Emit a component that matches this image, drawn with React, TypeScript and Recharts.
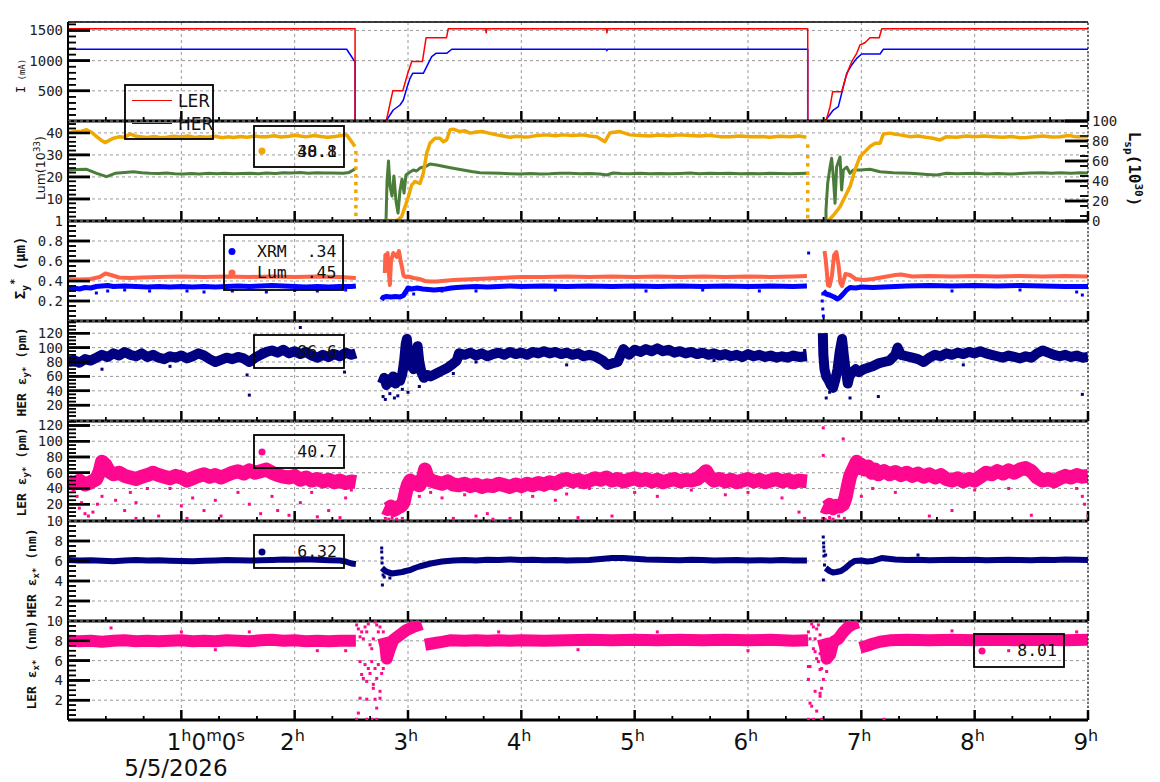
import React from 'react';
import { ComposedChart, Line, Scatter, XAxis, YAxis, CartesianGrid, ReferenceLine } from 'recharts';

type P = [number, number | null];

// time axis, hours from 0h
const HOUR_TICKS = [1, 2, 3, 4, 5, 6, 7, 8, 9];
const HOUR_MINOR = [0.333, 0.667, 1.333, 1.667, 2.333, 2.667, 3.333, 3.667, 4.333, 4.667, 5.333, 5.667, 6.333, 6.667, 7.333, 7.667, 8.333, 8.667];
const DATE_LABEL = '5/5/2026';

// panel 1 : beam current (mA)
const I_TICKS = [500, 1000, 1500];
const I_MINOR = [100, 200, 300, 400, 600, 700, 800, 900, 1100, 1200, 1300, 1400, 1600];
const I_LER: P[] = [
  [0, 1528], [2.533, 1528], [2.533, 0], [2.808, 0], [2.866, 500], [2.954, 500], [2.998, 790], [3.033, 985], [3.127, 985],
  [3.16, 1380], [3.34, 1380], [3.355, 1528], [3.685, 1528], [3.69, 1460], [3.695, 1528], [4.75, 1528], [4.755, 1460],
  [4.76, 1528], [6.527, 1528], [6.527, 0], [6.688, 0], [6.724, 237], [6.747, 485], [6.826, 485], [6.856, 679], [6.885, 845],
  [6.915, 983], [6.959, 1121], [6.988, 1259], [7.032, 1297], [7.076, 1380], [7.158, 1380], [7.18, 1528], [9, 1528],
];
const I_HER: P[] = [
  [0, 1188], [2.459, 1188], [2.527, 994], [2.533, 994], [2.533, 0], [2.806, 0], [2.87, 182], [2.93, 265], [2.959, 348],
  [2.989, 541], [3.018, 707], [3.041, 790], [3.135, 790], [3.165, 900], [3.209, 1066], [3.247, 1121], [3.341, 1121],
  [3.386, 1188], [4.75, 1188], [4.755, 1165], [4.76, 1188], [6.527, 1188], [6.527, 0], [6.679, 0], [6.753, 182],
  [6.797, 237], [6.841, 568], [6.871, 790], [6.915, 928], [6.959, 1038], [7.003, 1110], [7.165, 1110], [7.194, 1188], [9, 1188],
];

// panel 2 : luminosity (left) and specific luminosity (right)
const LUM_TICKS = [10, 20, 30, 40];
const LUM_MINOR = [2, 4, 6, 8, 12, 14, 16, 18, 22, 24, 26, 28, 32, 34, 36, 38, 42, 44];
const LSP_TICKS = [0, 20, 40, 60, 80, 100];
const LSP_MINOR = [5, 15, 25, 35, 45, 55, 65, 75, 85, 95];
const LUM: P[] = [
  [0, 40.1], [0.06, 40.5], [0.12, 40.8], [0.165, 41.4], [0.21, 40.2], [0.253, 38.3], [0.29, 36.8], [0.326, 35.6], [0.36, 36.5],
  [0.4, 37.6], [0.45, 38.2], [0.5, 38], [0.547, 39.5], [0.59, 38.6], [0.635, 38.3], [0.7, 37.9], [0.76, 38.4], [0.82, 37.8],
  [0.871, 38], [0.93, 38.5], [1, 38.1], [1.06, 38.6], [1.12, 37.9], [1.165, 38.3], [1.23, 38], [1.3, 38.5], [1.36, 37.8],
  [1.41, 38.2], [1.459, 37.9], [1.52, 38.4], [1.58, 38], [1.65, 38.6], [1.7, 38.2], [1.753, 38.3], [1.82, 38.7], [1.88, 38.1],
  [1.95, 38.5], [2, 38.9], [2.047, 38.6], [2.1, 38.2], [2.17, 38.8], [2.23, 38.4], [2.29, 38], [2.341, 38.3], [2.4, 38.7],
  [2.459, 39.1], [2.503, 36], [2.532, 33.8], [2.535, null],
  [2.8, 0.2], [2.885, 0.1], [2.912, 0.5], [2.944, 2], [2.974, 6.5], [3.003, 11], [3.033, 16.4], [3.062, 17.9], [3.106, 17.1],
  [3.135, 21.7], [3.165, 30.8], [3.194, 35.3], [3.238, 37.6], [3.282, 37.6], [3.312, 36], [3.341, 36.8], [3.371, 41.4],
  [3.4, 41.7], [3.459, 40.6], [3.5, 41], [3.547, 39.9], [3.6, 40.4], [3.662, 40.6], [3.72, 39.8], [3.783, 39.1], [3.84, 38.6],
  [3.9, 38], [3.96, 38.5], [4.02, 38.1], [4.076, 38.3], [4.14, 38.8], [4.224, 39.1], [4.3, 38.7], [4.368, 39.1], [4.45, 38.8],
  [4.544, 39.1], [4.6, 38.6], [4.665, 38.3], [4.738, 36], [4.783, 40.1], [4.871, 40.6], [4.959, 39.1], [5.05, 38.8],
  [5.135, 38.6], [5.22, 39], [5.3, 38.7], [5.4, 39.1], [5.49, 38.8], [5.577, 38.6], [5.66, 38.9], [5.75, 38.3], [5.84, 38.2],
  [5.93, 38.6], [6.02, 38.3], [6.106, 38.4], [6.19, 38], [6.28, 38.5], [6.371, 38.2], [6.45, 38.6], [6.515, 38], [6.52, null],
  [6.68, 0.2], [6.709, 0.1], [6.768, 3.5], [6.812, 6.5], [6.856, 11], [6.9, 15.6], [6.944, 23.2], [6.988, 29.2], [7.032, 31.5],
  [7.076, 33.8], [7.121, 35.3], [7.165, 35.3], [7.194, 39.5], [7.253, 39.9], [7.3, 39.4], [7.341, 39.1], [7.429, 38.3],
  [7.5, 38.6], [7.57, 38], [7.632, 37.6], [7.694, 36.8], [7.753, 38.3], [7.84, 38], [7.929, 38.6], [8, 38.2], [8.08, 38.6],
  [8.162, 38.3], [8.25, 38], [8.33, 38.4], [8.4, 37.8], [8.459, 37.9], [8.53, 38.3], [8.603, 38.6], [8.68, 38.1],
  [8.753, 38.3], [8.83, 38.8], [8.9, 38.2], [9, 38.3],
];
const LUM_DROP: P[] = [
  [2.54, 31], [2.54, 27.5], [2.54, 24], [2.54, 20.5], [2.54, 17], [2.54, 13.5], [2.54, 10], [2.54, 6.5], [2.54, 3],
  [6.527, 34], [6.527, 29.2], [6.527, 25.5], [6.527, 21.7], [6.527, 17.1], [6.527, 13.3], [6.527, 9.5], [6.527, 5], [6.527, 2],
];
const LSP: P[] = [
  [0, 51], [0.08, 51.5], [0.165, 51.7], [0.253, 47.7], [0.341, 44.3], [0.415, 47.7], [0.5, 48.5], [0.576, 49.3], [0.65, 48.2],
  [0.724, 47.7], [0.8, 47.4], [0.87, 47.9], [0.94, 47.2], [1.018, 47], [1.09, 47.6], [1.16, 47.1], [1.24, 47.7], [1.312, 47.3],
  [1.38, 47.8], [1.46, 47.2], [1.53, 47.6], [1.606, 47.7], [1.68, 47.3], [1.75, 48], [1.83, 47.6], [1.9, 48.3], [1.97, 47.9],
  [2.05, 48.4], [2.12, 47.8], [2.194, 48.3], [2.26, 47.9], [2.33, 48.1], [2.429, 47.7], [2.48, 48.6], [2.518, 51],
  [2.536, 52.7], [2.538, null],
  [2.54, 0], [2.806, 0], [2.815, 40], [2.828, 60], [2.841, 35], [2.859, 25], [2.876, 45], [2.894, 20], [2.912, 8], [2.929, 30],
  [2.947, 42], [2.965, 28], [2.982, 46], [3.018, 49], [3.047, 51], [3.076, 50], [3.106, 53], [3.165, 55], [3.194, 57],
  [3.253, 56], [3.341, 54], [3.41, 52.5], [3.485, 51], [3.56, 49.5], [3.635, 48.3], [3.72, 48], [3.812, 47.7], [3.9, 47.3],
  [3.988, 47], [4.08, 47.6], [4.17, 47.1], [4.253, 47.3], [4.34, 47.8], [4.429, 47.7], [4.52, 47.2], [4.6, 47.5], [4.694, 47],
  [4.753, 46], [4.809, 48], [4.88, 47.4], [4.959, 47.3], [5.05, 47.8], [5.13, 47.2], [5.22, 47.6], [5.31, 47.3], [5.4, 47.5],
  [5.49, 47.9], [5.57, 47.3], [5.66, 47.7], [5.75, 47.4], [5.84, 47.7], [5.93, 47.3], [6.02, 47.6], [6.11, 47.2], [6.19, 47.8],
  [6.28, 47.5], [6.37, 47.2], [6.45, 47.6], [6.52, 47.7], [6.524, null],
  [6.53, 0], [6.688, 0], [6.688, 11], [6.703, 37.7], [6.724, 54], [6.738, 62.7], [6.753, 44], [6.768, 17.7], [6.782, 54],
  [6.812, 64], [6.826, 31], [6.841, 51], [6.871, 54], [6.9, 47.7], [6.929, 51], [6.988, 51], [7.076, 51.7], [7.165, 49.3],
  [7.282, 48.3], [7.35, 48], [7.429, 47.7], [7.5, 47.2], [7.58, 46.6], [7.665, 46], [7.753, 47.7], [7.84, 47.2], [7.93, 47.6],
  [8.018, 47.7], [8.1, 47.1], [8.2, 47.5], [8.312, 47], [8.4, 47.4], [8.5, 47.9], [8.606, 48.3], [8.68, 47.8], [8.753, 48.3],
  [8.85, 47.7], [8.93, 48.2], [9, 48],
];

// panel 3 : vertical beam size (um)
const SIG_LABELS = [0.2, 0.4, 0.6, 0.8, 1];
const SIG_TICKS = [0.2, 0.4, 0.6, 0.8];
const SIG_MINOR = [0.05, 0.1, 0.15, 0.25, 0.3, 0.35, 0.45, 0.5, 0.55, 0.65, 0.7, 0.75, 0.85, 0.9, 0.95];
const SIG_XRM: P[] = [
  [0, 0.325], [0.05, 0.33], [0.1, 0.32], [0.15, 0.335], [0.2, 0.33], [0.25, 0.345], [0.3, 0.35], [0.35, 0.355], [0.4, 0.345],
  [0.5, 0.35], [0.6, 0.345], [0.7, 0.34], [0.8, 0.345], [0.9, 0.34], [1, 0.345], [1.1, 0.34], [1.2, 0.345], [1.3, 0.34],
  [1.4, 0.345], [1.5, 0.35], [1.6, 0.345], [1.7, 0.35], [1.8, 0.355], [1.9, 0.35], [2, 0.345], [2.1, 0.34], [2.2, 0.345],
  [2.3, 0.34], [2.4, 0.345], [2.5, 0.345], [2.54, 0.35], [2.545, null],
  [2.768, 0.21], [2.78, 0.235], [2.81, 0.245], [2.85, 0.24], [2.89, 0.245], [2.93, 0.24], [2.959, 0.255], [2.98, 0.29],
  [3, 0.33], [3.03, 0.32], [3.08, 0.33], [3.13, 0.32], [3.18, 0.315], [3.23, 0.31], [3.28, 0.315], [3.33, 0.32], [3.38, 0.33],
  [3.43, 0.335], [3.5, 0.34], [3.6, 0.345], [3.7, 0.34], [3.8, 0.345], [3.9, 0.35], [4, 0.345], [4.2, 0.35], [4.4, 0.345],
  [4.6, 0.35], [4.8, 0.345], [5, 0.35], [5.2, 0.345], [5.4, 0.35], [5.6, 0.345], [5.8, 0.35], [6, 0.345], [6.2, 0.35],
  [6.4, 0.345], [6.52, 0.35], [6.525, null],
  [6.665, 0.3], [6.69, 0.27], [6.72, 0.26], [6.76, 0.24], [6.79, 0.22], [6.81, 0.235], [6.84, 0.27], [6.87, 0.31], [6.9, 0.335],
  [6.95, 0.33], [7, 0.34], [7.1, 0.335], [7.2, 0.34], [7.3, 0.345], [7.4, 0.35], [7.6, 0.355], [7.8, 0.35], [8, 0.355],
  [8.2, 0.35], [8.4, 0.355], [8.6, 0.35], [8.8, 0.345], [9, 0.345],
];
const SIG_XRM_OUT: P[] = [
  [0.25, 0.28], [0.35, 0.3], [0.5, 0.31], [0.72, 0.3], [1.05, 0.3], [1.2, 0.29], [1.45, 0.3], [1.75, 0.29], [2, 0.305],
  [2.2, 0.3], [2.45, 0.31], [3.05, 0.27], [3.3, 0.3], [3.6, 0.3], [4.3, 0.31], [5.1, 0.3], [5.6, 0.31], [6.1, 0.3],
  [6.535, 0.68], [6.655, 0.2], [6.66, 0.12], [6.665, 0.05], [6.66, 0.27], [7.8, 0.3], [8.4, 0.31], [8.9, 0.29], [8.95, 0.26],
];
const SIG_LUM: P[] = [
  [0, 0.42], [0.1, 0.415], [0.2, 0.42], [0.28, 0.44], [0.33, 0.475], [0.38, 0.46], [0.45, 0.435], [0.55, 0.43], [0.65, 0.435],
  [0.8, 0.44], [1, 0.445], [1.2, 0.44], [1.4, 0.445], [1.6, 0.44], [1.8, 0.445], [2, 0.44], [2.2, 0.445], [2.4, 0.44],
  [2.54, 0.43], [2.545, null],
  [2.795, 0.48], [2.8, 0.66], [2.81, 0.55], [2.82, 0.68], [2.83, 0.5], [2.84, 0.36], [2.85, 0.6], [2.87, 0.68], [2.9, 0.64],
  [2.92, 0.7], [2.935, 0.6], [2.95, 0.52], [2.96, 0.455], [2.98, 0.44], [3, 0.445], [3.05, 0.43], [3.1, 0.42], [3.15, 0.4],
  [3.2, 0.395], [3.25, 0.395], [3.3, 0.4], [3.4, 0.41], [3.5, 0.415], [3.6, 0.42], [3.7, 0.425], [3.8, 0.43], [4, 0.44],
  [4.2, 0.44], [4.4, 0.445], [4.6, 0.44], [4.8, 0.445], [5, 0.44], [5.2, 0.445], [5.4, 0.44], [5.6, 0.445], [5.8, 0.44],
  [6, 0.445], [6.2, 0.44], [6.4, 0.445], [6.52, 0.45], [6.525, null],
  [6.675, 0.7], [6.685, 0.62], [6.695, 0.5], [6.705, 0.36], [6.72, 0.35], [6.74, 0.45], [6.76, 0.66], [6.78, 0.69], [6.8, 0.55],
  [6.815, 0.38], [6.83, 0.35], [6.86, 0.47], [6.9, 0.46], [6.95, 0.42], [7.02, 0.41], [7.1, 0.42], [7.2, 0.44], [7.3, 0.46],
  [7.35, 0.465], [7.45, 0.445], [7.6, 0.45], [7.8, 0.445], [8, 0.45], [8.2, 0.445], [8.4, 0.45], [8.6, 0.445], [8.8, 0.45], [9, 0.445],
];

// panel 4 : HER vertical emittance (pm)
const EY_TICKS = [20, 40, 60, 80, 100, 120];
const EY_MINOR = [5, 10, 15, 25, 30, 35, 45, 50, 55, 65, 70, 75, 85, 90, 95, 105, 110, 115, 125, 130, 135];
const HER_EY: P[] = [
  [0, 80], [0.05, 83], [0.1, 79], [0.15, 84], [0.2, 82], [0.25, 86], [0.3, 90], [0.35, 87], [0.4, 92], [0.45, 89], [0.5, 94],
  [0.55, 90], [0.6, 88], [0.65, 92], [0.7, 87], [0.75, 90], [0.8, 86], [0.85, 84], [0.9, 88], [0.95, 86], [1, 89], [1.05, 85],
  [1.1, 88], [1.15, 92], [1.2, 89], [1.25, 84], [1.3, 80], [1.35, 83], [1.4, 86], [1.45, 84], [1.5, 87], [1.55, 85], [1.6, 80],
  [1.65, 86], [1.7, 90], [1.75, 94], [1.8, 96], [1.85, 93], [1.9, 97], [1.95, 92], [2, 95], [2.05, 91], [2.1, 94], [2.15, 89],
  [2.2, 86], [2.25, 90], [2.3, 87], [2.35, 91], [2.4, 88], [2.45, 93], [2.5, 90], [2.54, 92], [2.545, null],
  [2.77, 50], [2.79, 58], [2.81, 48], [2.83, 56], [2.85, 52], [2.87, 60], [2.89, 50], [2.91, 57], [2.93, 54], [2.95, 64],
  [2.965, 80], [2.98, 105], [2.99, 112], [3, 95], [3.01, 75], [3.03, 85], [3.05, 70], [3.07, 90], [3.085, 102], [3.1, 80],
  [3.12, 65], [3.14, 58], [3.17, 62], [3.2, 60], [3.25, 64], [3.3, 68], [3.35, 72], [3.4, 78], [3.43, 82], [3.45, 92],
  [3.5, 90], [3.55, 93], [3.6, 89], [3.65, 92], [3.7, 88], [3.75, 91], [3.8, 93], [3.85, 90], [3.9, 94], [3.95, 91], [4, 93],
  [4.05, 90], [4.1, 94], [4.15, 92], [4.2, 95], [4.25, 92], [4.3, 94], [4.35, 91], [4.4, 93], [4.45, 90], [4.5, 92],
  [4.55, 88], [4.6, 90], [4.65, 88], [4.72, 82], [4.76, 76], [4.8, 78], [4.85, 80], [4.9, 98], [4.95, 90], [5, 97], [5.05, 94],
  [5.1, 98], [5.15, 95], [5.2, 99], [5.25, 95], [5.3, 97], [5.35, 93], [5.4, 95], [5.45, 92], [5.5, 94], [5.55, 91], [5.6, 93],
  [5.65, 90], [5.7, 92], [5.75, 89], [5.8, 91], [5.85, 88], [5.9, 90], [5.95, 87], [6, 91], [6.05, 88], [6.1, 90], [6.15, 87],
  [6.2, 89], [6.25, 86], [6.3, 88], [6.35, 86], [6.4, 89], [6.45, 87], [6.52, 88], [6.525, null],
  [6.66, 120], [6.665, 90], [6.675, 70], [6.69, 60], [6.71, 55], [6.73, 48], [6.75, 44], [6.77, 55], [6.79, 70], [6.81, 95],
  [6.83, 112], [6.845, 90], [6.86, 70], [6.87, 62], [6.88, 50], [6.895, 60], [6.92, 66], [6.95, 70], [6.98, 66], [7.02, 70],
  [7.06, 72], [7.1, 74], [7.15, 78], [7.2, 80], [7.25, 82], [7.3, 90], [7.32, 100], [7.35, 90], [7.4, 88], [7.45, 86], [7.5, 84],
  [7.55, 80], [7.6, 86], [7.65, 90], [7.7, 88], [7.75, 92], [7.8, 90], [7.85, 93], [7.9, 91], [7.95, 94], [8, 92], [8.05, 95],
  [8.1, 92], [8.15, 90], [8.2, 88], [8.25, 86], [8.3, 89], [8.35, 87], [8.4, 85], [8.45, 88], [8.5, 86], [8.55, 92], [8.6, 96],
  [8.65, 93], [8.7, 90], [8.75, 88], [8.8, 90], [8.85, 87], [8.9, 89], [8.95, 86], [9, 87],
];
const HER_EY_OUT: P[] = [
  [0.3, 70], [0.9, 74], [1.58, 62], [1.6, 34], [2.05, 128], [2.44, 66], [2.78, 32], [2.8, 28], [2.84, 36], [2.88, 30],
  [2.91, 33], [2.95, 42], [3, 38], [3.1, 46], [3.4, 64], [3.6, 80], [4.4, 76], [5.7, 82], [6.5, 96], [6.69, 30], [6.72, 38],
  [6.9, 30], [7.15, 32], [7.9, 76], [8.95, 35],
];

// panel 5 : LER vertical emittance (pm)
const LER_EY: P[] = [
  [0, 49], [0.05, 46], [0.1, 50], [0.15, 45], [0.2, 48], [0.25, 52], [0.28, 62], [0.3, 74], [0.33, 70], [0.36, 62], [0.4, 58],
  [0.45, 60], [0.5, 56], [0.55, 54], [0.6, 52], [0.65, 55], [0.7, 57], [0.75, 60], [0.8, 57], [0.85, 55], [0.9, 53],
  [0.95, 56], [1, 54], [1.05, 50], [1.1, 53], [1.15, 56], [1.2, 58], [1.25, 55], [1.3, 57], [1.35, 54], [1.4, 57], [1.45, 60],
  [1.5, 62], [1.55, 59], [1.6, 63], [1.65, 60], [1.7, 62], [1.75, 64], [1.8, 60], [1.85, 57], [1.9, 55], [1.95, 54], [2, 56],
  [2.05, 51], [2.1, 54], [2.15, 50], [2.2, 52], [2.25, 49], [2.3, 51], [2.35, 48], [2.4, 50], [2.45, 47], [2.5, 49],
  [2.54, 48], [2.545, null],
  [2.79, 16], [2.82, 14], [2.85, 17], [2.88, 13], [2.91, 16], [2.94, 18], [2.96, 22], [2.98, 35], [3, 45], [3.02, 50],
  [3.05, 46], [3.08, 48], [3.1, 44], [3.13, 52], [3.15, 64], [3.17, 55], [3.2, 50], [3.25, 48], [3.3, 46], [3.35, 49],
  [3.4, 45], [3.45, 44], [3.5, 46], [3.55, 43], [3.6, 45], [3.65, 42], [3.7, 44], [3.75, 43], [3.8, 46], [3.85, 44], [3.9, 42],
  [3.95, 45], [4, 43], [4.05, 46], [4.1, 44], [4.15, 47], [4.2, 45], [4.25, 48], [4.3, 46], [4.35, 50], [4.4, 52], [4.45, 49],
  [4.5, 51], [4.55, 48], [4.6, 50], [4.65, 53], [4.7, 51], [4.75, 54], [4.8, 50], [4.85, 52], [4.9, 49], [4.95, 51], [5, 53],
  [5.05, 50], [5.1, 52], [5.15, 49], [5.2, 51], [5.25, 48], [5.3, 50], [5.35, 52], [5.4, 49], [5.45, 51], [5.5, 50],
  [5.55, 52], [5.6, 58], [5.63, 62], [5.66, 55], [5.7, 50], [5.75, 52], [5.8, 49], [5.85, 51], [5.9, 48], [5.95, 50], [6, 52],
  [6.05, 49], [6.1, 51], [6.15, 48], [6.2, 50], [6.25, 52], [6.3, 49], [6.35, 51], [6.4, 48], [6.45, 50], [6.52, 49], [6.525, null],
  [6.66, 18], [6.69, 16], [6.72, 19], [6.75, 15], [6.78, 18], [6.81, 17], [6.84, 20], [6.86, 28], [6.88, 42], [6.9, 55],
  [6.92, 62], [6.94, 68], [6.96, 74], [6.98, 66], [7, 70], [7.03, 64], [7.06, 68], [7.09, 60], [7.12, 64], [7.15, 58],
  [7.2, 62], [7.25, 58], [7.3, 61], [7.35, 57], [7.4, 60], [7.45, 56], [7.5, 59], [7.55, 55], [7.6, 58], [7.65, 54], [7.7, 57],
  [7.75, 52], [7.8, 50], [7.85, 53], [7.9, 49], [7.95, 52], [8, 50], [8.05, 55], [8.1, 60], [8.15, 58], [8.2, 62], [8.25, 59],
  [8.3, 63], [8.35, 60], [8.4, 64], [8.45, 66], [8.5, 62], [8.55, 54], [8.6, 50], [8.65, 52], [8.7, 49], [8.75, 53], [8.8, 56],
  [8.85, 54], [8.9, 57], [8.95, 55], [9, 56],
];
const LER_EY_OUT: P[] = [
  [0.05, 38], [0.08, 30], [0.12, 22], [0.1, 15], [0.15, 8], [0.18, 5], [0.22, 10], [0.26, 20], [0.3, 30], [0.42, 25],
  [0.5, 12], [0.55, 35], [0.6, 22], [0.6, 2], [0.7, 40], [0.8, 5], [0.9, 40], [1, 18], [1.05, 2], [1.1, 28], [1.2, 12],
  [1.3, 25], [1.35, 5], [1.5, 35], [1.6, 20], [1.7, 8], [1.8, 30], [1.85, 12], [1.95, 6], [2.05, 22], [2.15, 35], [2.2, 4],
  [2.3, 12], [2.4, 3], [2.45, 28], [2.5, 38], [2.8, 2], [2.83, 1], [2.86, 3], [2.9, 1], [2.95, 2], [3.1, 30], [3.2, 35],
  [3.3, 28], [3.4, 2], [3.5, 32], [3.6, 5], [3.7, 8], [3.75, 1], [3.9, 2], [4, 36], [4.1, 30], [4.2, 38], [4.3, 25],
  [4.4, 33], [4.5, 3], [4.6, 40], [4.8, 5], [5, 35], [5.2, 30], [5.5, 38], [5.8, 32], [6, 35], [6.3, 28], [6.45, 10],
  [6.5, 2], [6.664, 117], [6.664, 82], [6.84, 103], [6.66, 2], [6.68, 1], [6.72, 3], [6.75, 1], [6.8, 5], [6.85, 2],
  [7, 30], [7.1, 40], [7.3, 35], [7.6, 5], [7.8, 12], [8, 38], [8.3, 40], [8.5, 6], [8.7, 45], [8.9, 40], [8.95, 30],
  [8.97, 20], [9, 5],
];

// panels 6, 7 : horizontal emittance (nm)
const EX_LABELS = [2, 4, 6, 8, 10];
const EX_TICKS = [2, 4, 6, 8];
const EX_MINOR = [0.5, 1, 1.5, 2.5, 3, 3.5, 4.5, 5, 5.5, 6.5, 7, 7.5, 8.5, 9, 9.5];
const HER_EX: P[] = [
  [0, 6.1], [0.1, 6.05], [0.2, 6.08], [0.3, 6.02], [0.4, 5.97], [0.5, 6.05], [0.6, 6.1], [0.7, 6.05], [0.8, 6.08],
  [0.9, 6.03], [1, 6], [1.1, 5.98], [1.2, 6.02], [1.3, 6.06], [1.4, 6.1], [1.5, 6.08], [1.6, 6.05], [1.7, 6.07], [1.8, 6.1],
  [1.9, 6.15], [2, 6.12], [2.1, 6.18], [2.2, 6.12], [2.3, 6.08], [2.4, 6.05], [2.45, 5.95], [2.5, 5.75], [2.54, 5.7], [2.545, null],
  [2.77, 5.3], [2.8, 5], [2.83, 4.85], [2.86, 4.75], [2.89, 4.8], [2.92, 4.85], [2.95, 4.9], [2.98, 5], [3.02, 5.1],
  [3.06, 5.3], [3.1, 5.45], [3.15, 5.6], [3.2, 5.75], [3.25, 5.85], [3.3, 5.95], [3.4, 6.05], [3.5, 6.1], [3.6, 6.05],
  [3.7, 6.12], [3.8, 6.1], [3.9, 6.15], [4, 6.1], [4.1, 6.12], [4.2, 6.08], [4.3, 6.1], [4.4, 6.05], [4.5, 6.08], [4.6, 6.1],
  [4.7, 6.2], [4.8, 6.3], [4.9, 6.3], [5, 6.22], [5.1, 6.15], [5.2, 6.12], [5.3, 6.1], [5.4, 6.08], [5.5, 6.12], [5.6, 6.1],
  [5.7, 6.05], [5.8, 6.08], [5.9, 6.1], [6, 6.05], [6.1, 6.08], [6.2, 6.05], [6.3, 6.1], [6.4, 6.05], [6.52, 6.05], [6.525, null],
  [6.685, 5.3], [6.72, 5], [6.75, 4.85], [6.78, 4.9], [6.82, 5], [6.86, 5.3], [6.9, 5.7], [6.94, 6], [7, 6.05], [7.05, 5.95],
  [7.1, 6], [7.18, 6.3], [7.22, 6.25], [7.3, 6.15], [7.4, 6.1], [7.5, 6.12], [7.6, 6.08], [7.7, 6.1], [7.8, 6.12], [7.9, 6.1],
  [8, 6.12], [8.1, 6.08], [8.2, 6.1], [8.3, 6.12], [8.4, 6.1], [8.5, 6.08], [8.6, 6.12], [8.7, 6.1], [8.8, 6.15], [8.9, 6.12], [9, 6.1],
];
const HER_EX_OUT: P[] = [
  [2.768, 7.3], [2.768, 6.9], [2.771, 6.3], [2.771, 5.8], [2.774, 3.6], [2.78, 4.6], [2.79, 4.4], [2.84, 4.3],
  [6.664, 8.4], [6.667, 7.8], [6.668, 7.4], [6.671, 7], [6.67, 6.5], [6.675, 5.6], [6.665, 4.1], [6.685, 6.6], [7.5, 6.6],
];
const LER_EX: P[] = [
  [0, 8], [0.1, 7.95], [0.2, 8], [0.3, 7.9], [0.4, 8], [0.5, 8.05], [0.6, 7.95], [0.7, 8], [0.8, 7.95], [0.9, 8], [1, 8.05],
  [1.1, 7.95], [1.2, 8], [1.3, 7.95], [1.4, 8.05], [1.5, 8], [1.6, 7.95], [1.7, 8.05], [1.8, 8.1], [1.9, 8], [2, 8.05],
  [2.1, 7.95], [2.2, 8], [2.3, 7.95], [2.4, 8], [2.54, 8], [2.545, null],
  [2.782, 8.3], [2.8, 7.5], [2.812, 6.2], [2.841, 7.2], [2.87, 8.1], [2.929, 8.6], [2.988, 9.1], [3.047, 9.4], [3.121, 9.7],
  [3.13, null], [3.15, 7.6], [3.2, 7.7], [3.25, 7.8], [3.3, 7.9], [3.37, 8.05], [3.5, 8], [3.6, 8.05], [3.7, 8], [3.8, 8.05],
  [3.9, 8], [4, 8.05], [4.2, 8], [4.4, 8.05], [4.6, 8.1], [4.8, 8.05], [5, 8.1], [5.2, 8.05], [5.4, 8.1], [5.6, 8.05],
  [5.8, 8.1], [6, 8.05], [6.2, 8.1], [6.4, 8], [6.53, 8.05], [6.535, null],
  [6.66, 8.2], [6.68, 7.4], [6.694, 6.2], [6.724, 6.6], [6.753, 7.9], [6.797, 8.2], [6.841, 8.9], [6.885, 9.4], [6.929, 9.7],
  [6.974, 9.85], [6.98, null], [6.988, 7.3], [7.05, 7.5], [7.1, 7.7], [7.165, 7.9], [7.25, 8.05], [7.4, 8.1], [7.6, 8.05],
  [7.8, 8.1], [8, 8.05], [8.2, 8.1], [8.4, 8.05], [8.6, 8.1], [8.8, 8.05], [9, 8.1],
];
const LER_EX_OUT: P[] = [
  [0.38, 9.3], [1, 8.9], [1.3, 7.1], [1.6, 8.9], [2.2, 7], [2.45, 7], [3.8, 8.9], [4.5, 7.1], [5.2, 8.9], [6, 7], [7.8, 9],
  [8.3, 7], [8.9, 8.9], [7.2, 0.07],
  [2.547, 9.6], [2.562, 9.2], [2.577, 8.4], [2.591, 8.9], [2.606, 8.2], [2.621, 9.4], [2.636, 8.9], [2.65, 9.7], [2.665, 7.6],
  [2.68, 7.2], [2.694, 8.2], [2.709, 9.9], [2.724, 9.6], [2.738, 8.9], [2.753, 9.4], [2.768, 7.9], [2.782, 8.9], [2.577, 5.9],
  [2.591, 4.6], [2.606, 4.2], [2.621, 5.6], [2.636, 3.9], [2.65, 5.2], [2.665, 4.7], [2.68, 5.9], [2.694, 3.2], [2.709, 5.2],
  [2.724, 4.2], [2.738, 5.6], [2.753, 2.9], [2.768, 4.7], [2.782, 5.2], [2.797, 6.6], [2.562, 0.7], [2.577, 2.2], [2.636, 2.1],
  [2.694, 3.6], [2.709, 2.1], [2.724, 1.2], [2.753, 2.2], [2.547, 0.07], [2.636, 0.07], [2.68, 0.07], [2.724, 0.07],
  [6.533, 8.9], [6.547, 8.2], [6.562, 9.7], [6.577, 9.4], [6.592, 8.2], [6.606, 9.2], [6.621, 9.6], [6.636, 8.6], [6.65, 7.2],
  [6.665, 7.9], [6.577, 7.2], [6.592, 6.9], [6.606, 6.2], [6.621, 5.9], [6.636, 6.7], [6.665, 6.2], [6.533, 5.4], [6.547, 5.4],
  [6.65, 5.2], [6.694, 4.9], [6.533, 4.1], [6.636, 5.1], [6.665, 4.1], [6.592, 2.9], [6.636, 2.7], [6.547, 1.7], [6.562, 1.4],
  [6.606, 0.9], [6.636, 2.4], [6.65, 3.2], [6.533, 0.07], [6.577, 0.07], [6.65, 0.07],
];

const RED = '#ff0000';
const BLUE = '#0000ff';
const ORANGE = '#f0a800';
const GREEN = '#4a7c3a';
const TOMATO = '#ff6347';
const NAVY = '#000080';
const PINK = '#ff0890';

const rows = (pts: P[]) => pts.map(([t, v]) => ({ t, v }));
const square = (s: number) => (p: any) =>
  p.cx == null ? <g /> : <rect x={p.cx - s / 2} y={p.cy - s / 2} width={s} height={s} fill={p.fill} />;

const PAD = 8;
const PLOT_L = 68;
const PLOT_W = 1020; // plot width in px, 0h..9h
const hx = (px: number) => (px * 9) / PLOT_W; // pixel length -> hours
const TICK_FONT = { fontFamily: 'DejaVu Sans Mono', fontSize: 14, fill: '#222' };
const NoLabel = () => <g />;

interface AxisSpec {
  top: number;
  bottom: number;
  domain: [number, number];
  labels: number[];
  majors: number[];
  minors: number[];
  right?: { domain: [number, number]; labels: number[]; minors: number[] };
}

// one entry per stacked panel
const AX_I: AxisSpec = { top: 22, bottom: 121, domain: [0, 1640], labels: I_TICKS, majors: I_TICKS, minors: I_MINOR };
const AX_LUM: AxisSpec = {
  top: 121, bottom: 221, domain: [0, 45.4], labels: LUM_TICKS, majors: LUM_TICKS, minors: LUM_MINOR,
  right: { domain: [0, 100], labels: LSP_TICKS, minors: LSP_MINOR },
};
const AX_SIG: AxisSpec = { top: 221, bottom: 321, domain: [0, 1], labels: SIG_LABELS, majors: SIG_TICKS, minors: SIG_MINOR };
const AX_HEY: AxisSpec = { top: 321, bottom: 421, domain: [-2, 137], labels: EY_TICKS, majors: EY_TICKS, minors: EY_MINOR };
const AX_LEY: AxisSpec = { top: 421, bottom: 521, domain: [-1.3, 125.7], labels: EY_TICKS, majors: EY_TICKS, minors: EY_MINOR.slice(0, 19) };
const AX_HEX: AxisSpec = { top: 521, bottom: 621, domain: [0, 10], labels: EX_LABELS, majors: EX_TICKS, minors: EX_MINOR };
const AX_LEX: AxisSpec = { top: 621, bottom: 720, domain: [0, 10], labels: EX_LABELS, majors: EX_TICKS, minors: EX_MINOR };
const ALL_AXES = [AX_I, AX_LUM, AX_SIG, AX_HEY, AX_LEY, AX_HEX, AX_LEX];

// inward tick marks as short reference segments in data units
function tickMarks(a: AxisSpec) {
  const { domain, top, bottom, majors, minors, right } = a;
  const dy = (domain[1] - domain[0]) / (bottom - top);
  const seg = (key: string, p: { x: number; y: number }, q: { x: number; y: number }, w: number, axis = 'yC') => (
    <ReferenceLine key={key} xAxisId="x" yAxisId={axis} segment={[p, q]} stroke="#000" strokeWidth={w} ifOverflow="visible" />
  );
  const out: React.ReactNode[] = [];
  majors.forEach((v) => out.push(seg(`M${v}`, { x: 0, y: v }, { x: hx(22), y: v }, 2.5)));
  minors.forEach((v) => out.push(seg(`m${v}`, { x: 0, y: v }, { x: hx(8), y: v }, 1.5)));
  HOUR_MINOR.forEach((h) => out.push(seg(`h${h}`, { x: h, y: domain[0] }, { x: h, y: domain[0] + 4 * dy }, 1.5)));
  if (right) {
    right.labels.forEach((v) => out.push(seg(`R${v}`, { x: 9 - hx(23), y: v }, { x: 9, y: v }, 2.5, 'rC')));
    right.minors.forEach((v) => out.push(seg(`r${v}`, { x: 9 - hx(8), y: v }, { x: 9, y: v }, 1.5, 'rC')));
  }
  return out;
}

// "1h0m0s" style labels under the last panel
const timeLabel = (h: number) => (p: any) => {
  const vb = p.viewBox || {};
  const x = vb.x;
  const base = vb.y + vb.height + 30;
  return (
    <g>
      <text x={x - 14.6} y={base} fontFamily="DejaVu Sans" fontSize={23} fill="#111">
        <tspan>{h}</tspan>
        <tspan fontSize={16} dy={-9}>h</tspan>
        {h === 1 && (
          <>
            <tspan dy={9}>0</tspan>
            <tspan fontSize={16} dy={-9}>m</tspan>
            <tspan dy={9}>0</tspan>
            <tspan fontSize={16} dy={-9}>s</tspan>
          </>
        )}
      </text>
      {h === 1 && (
        <text x={x - 57} y={base + 26} fontFamily="DejaVu Sans" fontSize={23} fill="#111">{DATE_LABEL}</text>
      )}
    </g>
  );
};

function Panel({ axis, topLine, timeLabels, children }: { axis: AxisSpec; topLine?: boolean; timeLabels?: boolean; children?: React.ReactNode }) {
  const { top, bottom, domain, labels, majors, right } = axis;
  const extra = timeLabels ? 62 : 0;
  return (
    <div style={{ position: 'absolute', left: 0, top: top - PAD }}>
      <ComposedChart
        width={1160}
        height={bottom - top + 2 * PAD + extra}
        margin={{ top: PAD, bottom: PAD + extra, left: 8, right: right ? 12 : 72 }}
      >
        <CartesianGrid xAxisId="x" yAxisId="yA" stroke="#9a9a9a" strokeDasharray="3 3" />
        <XAxis xAxisId="x" dataKey="t" type="number" domain={[0, 9]} allowDataOverflow ticks={HOUR_TICKS} interval={0}
          mirror tick={<NoLabel />} tickSize={10} tickLine={{ stroke: '#000', strokeWidth: 2.5 }}
          axisLine={{ stroke: '#000', strokeWidth: 3 }} />
        {topLine && (
          <XAxis xAxisId="xt" orientation="top" type="number" domain={[0, 9]} allowDataOverflow mirror
            tick={<NoLabel />} tickLine={false} axisLine={{ stroke: '#000', strokeWidth: 1.5 }} />
        )}
        <YAxis yAxisId="yA" type="number" domain={domain} allowDataOverflow ticks={majors} interval={0} mirror width={0.01}
          tick={<NoLabel />} tickLine={false} axisLine={{ stroke: '#000', strokeWidth: 2 }} />
        <YAxis yAxisId="yC" type="number" domain={domain} allowDataOverflow ticks={labels} interval={0} width={60}
          tickSize={0} tickMargin={5} tickLine={false} axisLine={false} tick={TICK_FONT} />
        {right && (
          <YAxis yAxisId="rC" orientation="right" type="number" domain={right.domain} allowDataOverflow ticks={right.labels}
            interval={0} width={60} tickSize={0} tickMargin={4} tickLine={false} axisLine={false} tick={TICK_FONT} />
        )}
        {tickMarks(axis)}
        {children}
        <ReferenceLine xAxisId="x" yAxisId="yC" x={9} stroke="#000" strokeDasharray="2 2" />
        {timeLabels &&
          HOUR_TICKS.map((h) => (
            <ReferenceLine key={`t${h}`} xAxisId="x" yAxisId="yC" x={h} stroke="none" label={timeLabel(h)} />
          ))}
      </ComposedChart>
    </div>
  );
}

const line = (pts: P[], color: string, width: number, axis = 'yC') => (
  <Line xAxisId="x" yAxisId={axis} data={rows(pts)} dataKey="v" type="linear" stroke={color} strokeWidth={width}
    strokeLinejoin="round" dot={false} activeDot={false} connectNulls={false} isAnimationActive={false} />
);
const dots = (pts: P[], color: string, size = 3) => (
  <Scatter xAxisId="x" yAxisId="yC" data={rows(pts)} dataKey="v" fill={color} shape={square(size)} isAnimationActive={false} />
);

const MONO = 'DejaVu Sans Mono';

// frame ticks repeated on top of the panels, from the same axis specs
function FrameTicks() {
  const out: React.ReactNode[] = [];
  ALL_AXES.forEach((a, i) => {
    const sy = (v: number, d: [number, number]) => a.bottom - ((v - d[0]) / (d[1] - d[0])) * (a.bottom - a.top);
    const R = PLOT_L + PLOT_W;
    a.majors.forEach((v) => out.push(<line key={`M${i}-${v}`} x1={PLOT_L} x2={PLOT_L + 22} y1={sy(v, a.domain)} y2={sy(v, a.domain)} stroke="#000" strokeWidth={2.5} />));
    a.minors.forEach((v) => out.push(<line key={`m${i}-${v}`} x1={PLOT_L} x2={PLOT_L + 8} y1={sy(v, a.domain)} y2={sy(v, a.domain)} stroke="#000" strokeWidth={1.5} />));
    HOUR_MINOR.forEach((h) => {
      const x = PLOT_L + (h / 9) * PLOT_W;
      out.push(<line key={`h${i}-${h}`} x1={x} x2={x} y1={a.bottom} y2={a.bottom - 4} stroke="#000" strokeWidth={1.5} />);
    });
    if (a.right) {
      const rd = a.right.domain;
      a.right.labels.forEach((v) => out.push(<line key={`R${i}-${v}`} x1={R - 23} x2={R} y1={sy(v, rd)} y2={sy(v, rd)} stroke="#000" strokeWidth={2.5} />));
      a.right.minors.forEach((v) => out.push(<line key={`r${i}-${v}`} x1={R - 8} x2={R} y1={sy(v, rd)} y2={sy(v, rd)} stroke="#000" strokeWidth={1.5} />));
    }
  });
  return <g>{out}</g>;
}

function Overlay() {
  const box = { fill: 'none', stroke: '#000', strokeWidth: 1.8 };
  const val = { fontFamily: MONO, fontSize: 16.5, fill: '#111' };
  const title = { fontFamily: MONO, fontWeight: 'bold' as const, fill: '#111', textAnchor: 'middle' as const };
  return (
    <svg width={1160} height={782} style={{ position: 'absolute', left: 0, top: 0, pointerEvents: 'none' }}>
      <FrameTicks />
      {/* axis titles */}
      <text transform="translate(25,76) rotate(-90)" textAnchor="middle" fontFamily={MONO} fill="#111">
        <tspan fontSize={12}>I</tspan><tspan fontSize={9}> (mA)</tspan>
      </text>
      <text transform="translate(45,168) rotate(-90)" textAnchor="middle" fontFamily="DejaVu Sans" fontSize={12.5} fill="#111">
        Lum(10<tspan fontSize={9} dy={-5}>33</tspan><tspan dy={5}>)</tspan>
      </text>
      <text transform="translate(1129,169) rotate(90)" {...title} fontSize={16}>
        L<tspan fontSize={11} dy={4}>sp</tspan><tspan dy={-4}>(10</tspan><tspan fontSize={11} dy={-6}>30</tspan><tspan dy={6}>)</tspan>
      </text>
      <text transform="translate(25,268) rotate(-90)" {...title} fontSize={14}>
        Σ<tspan fontSize={10} dy={4}>y</tspan><tspan fontSize={10} dy={-11}>*</tspan><tspan dy={7}> (μm)</tspan>
      </text>
      <text transform="translate(26,372) rotate(-90)" {...title} fontSize={13}>
        HER ε<tspan fontSize={9} dy={3}>y*</tspan><tspan dy={-3}> (pm)</tspan>
      </text>
      <text transform="translate(26,472) rotate(-90)" {...title} fontSize={13}>
        LER ε<tspan fontSize={9} dy={3}>y*</tspan><tspan dy={-3}> (pm)</tspan>
      </text>
      <text transform="translate(36,573) rotate(-90)" {...title} fontSize={13}>
        HER ε<tspan fontSize={9} dy={3}>x*</tspan><tspan dy={-3}> (nm)</tspan>
      </text>
      <text transform="translate(36,665) rotate(-90)" {...title} fontSize={13}>
        LER ε<tspan fontSize={9} dy={3}>x*</tspan><tspan dy={-3}> (nm)</tspan>
      </text>

      {/* legends */}
      <rect x={125} y={85} width={88} height={54} {...box} />
      <line x1={132} x2={172} y1={100.5} y2={100.5} stroke={RED} strokeWidth={1.2} />
      <line x1={132} x2={172} y1={123.5} y2={123.5} stroke={BLUE} strokeWidth={1.2} />
      <text x={178} y={107} fontFamily="DejaVu Sans" fontSize={17} fill="#111">LER</text>
      <text x={178} y={130} fontFamily="DejaVu Sans" fontSize={17} fill="#111">HER</text>

      <rect x={254} y={126} width={90} height={41} {...box} />
      <circle cx={262} cy={151} r={3.5} fill={ORANGE} />
      <text x={337} y={157} textAnchor="end" {...val}>38.1</text>
      <text x={337} y={157} textAnchor="end" {...val}>40.8</text>

      <rect x={224} y={235} width={119} height={55} {...box} />
      <circle cx={232} cy={251.5} r={3.5} fill={BLUE} />
      <circle cx={232} cy={273} r={3.5} fill={TOMATO} />
      <text x={257} y={257} {...val} xmlSpace="preserve" style={{ whiteSpace: 'pre' }}>XRM  .34</text>
      <text x={257} y={278} {...val} xmlSpace="preserve" style={{ whiteSpace: 'pre' }}>Lum  .45</text>

      <rect x={254} y={335} width={90} height={33} {...box} />
      <circle cx={262} cy={352} r={3.5} fill={NAVY} />
      <text x={337} y={357} textAnchor="end" {...val}>86.6</text>

      <rect x={254} y={435} width={90} height={33} {...box} />
      <circle cx={262} cy={452} r={3.5} fill={PINK} />
      <text x={337} y={457} textAnchor="end" {...val}>40.7</text>

      <rect x={254} y={535} width={90} height={33} {...box} />
      <circle cx={262} cy={552} r={3.5} fill={NAVY} />
      <text x={337} y={557} textAnchor="end" {...val}>6.32</text>

      <rect x={974} y={634} width={90} height={33} {...box} />
      <circle cx={982} cy={651} r={3.5} fill={PINK} />
      <text x={1057} y={656} textAnchor="end" {...val}>8.01</text>
    </svg>
  );
}

export default function App() {
  return (
    <div style={{ position: 'absolute', left: 0, top: 0, width: 1160, height: 782, background: '#fff' }}>
      <Panel axis={AX_I} topLine>
        {line(I_HER, BLUE, 1.5)}
        {line(I_LER, RED, 1.5)}
      </Panel>
      <Panel axis={AX_LUM}>
        {line(LSP, GREEN, 3, 'rC')}
        {line(LUM, ORANGE, 3.5)}
        {dots(LUM_DROP, ORANGE, 3.5)}
      </Panel>
      <Panel axis={AX_SIG}>
        {line(SIG_LUM, TOMATO, 4)}
        {line(SIG_XRM, BLUE, 5)}
        {dots(SIG_XRM_OUT, BLUE)}
      </Panel>
      <Panel axis={AX_HEY}>
        {line(HER_EY, NAVY, 10)}
        {dots(HER_EY_OUT, NAVY)}
      </Panel>
      <Panel axis={AX_LEY}>
        {line(LER_EY, PINK, 14)}
        {dots(LER_EY_OUT, PINK)}
      </Panel>
      <Panel axis={AX_HEX}>
        {line(HER_EX, NAVY, 6)}
        {dots(HER_EX_OUT, NAVY)}
      </Panel>
      <Panel axis={AX_LEX} timeLabels>
        {line(LER_EX, PINK, 12)}
        {dots(LER_EX_OUT, PINK)}
      </Panel>
      <Overlay />
    </div>
  );
}
